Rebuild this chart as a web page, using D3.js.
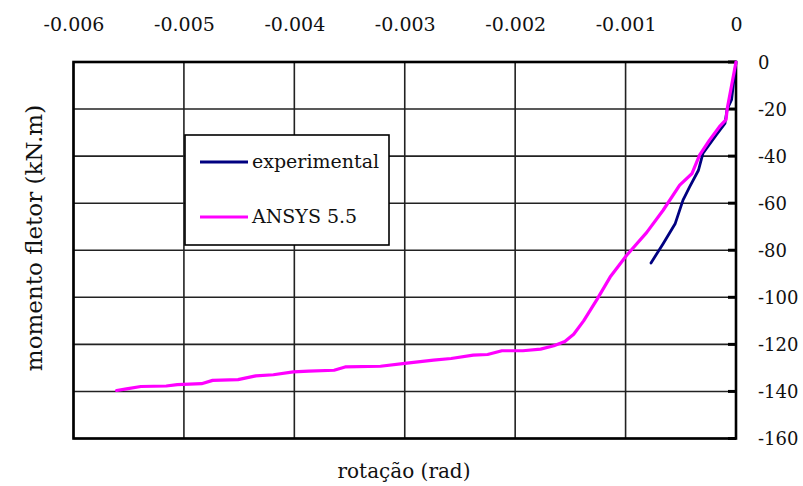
<!DOCTYPE html>
<html>
<head>
<meta charset="utf-8">
<script src="https://cdn.jsdelivr.net/npm/d3@7"></script>
<style>
  html, body { margin: 0; padding: 0; background: #fff; }
</style>
</head>
<body>
<svg id="chart" width="803" height="486"></svg>
<script>
// Rotation (rad) vs bending moment (kN.m)
const seriesNames = ["experimental", "ANSYS 5.5"];

const experimentalRot = [0, -0.00002, -0.00004, -0.00008, -0.0001, -0.00018, -0.0003, -0.00034, -0.00042, -0.00048, -0.00055, -0.00066, -0.00077];
const experimentalMom = [0, -8, -16, -20, -26.1, -31.1, -38.9, -46, -53.1, -58.7, -68.6, -77.2, -85.4];

const ansysRot = [0, -0.00004, -0.00008, -0.00009, -0.00015, -0.00024, -0.00033, -0.0004, -0.00051, -0.00066, -0.00081, -0.00099,
  -0.00114, -0.00126, -0.00138, -0.00147, -0.00155, -0.00165, -0.00177, -0.00193, -0.00212, -0.00225, -0.00238, -0.00258,
  -0.00274, -0.003, -0.00322, -0.00354, -0.00364, -0.00387, -0.00401, -0.00419, -0.00435, -0.00451, -0.00474, -0.00484,
  -0.00506, -0.00516, -0.00539, -0.00552, -0.00561];
const ansysMom = [0, -10, -20, -24.5, -27.5, -33.2, -39.6, -47.5, -52.3, -63, -72.5, -82.1,
  -91.4, -101, -110, -115.7, -118.8, -120.6, -122, -122.7, -122.7, -124.3, -124.6, -126,
  -126.7, -128.1, -129.3, -129.6, -131, -131.4, -131.7, -132.9, -133.4, -135, -135.3, -136.7,
  -137.1, -137.7, -137.9, -138.9, -139.6];

const xTicks = [-0.006, -0.005, -0.004, -0.003, -0.002, -0.001, 0];
const xTickLabels = ["-0.006", "-0.005", "-0.004", "-0.003", "-0.002", "-0.001", "0"];
const yTicks = [0, -20, -40, -60, -80, -100, -120, -140, -160];
const yTickLabels = ["0", "-20", "-40", "-60", "-80", "-100", "-120", "-140", "-160"];

const seriesColors = ["#000080", "#ff00ff"];
const FONT = "DejaVu Serif";

const plot = { left: 73.5, right: 736, top: 62, bottom: 438.5 };

const x = d3.scaleLinear().domain([-0.006, 0]).range([plot.left, plot.right]);
const y = d3.scaleLinear().domain([0, -160]).range([plot.top, plot.bottom]);

const svg = d3.select("#chart");

// grid
const grid = svg.append("g");
grid.selectAll("line.v").data(xTicks).join("line")
  .attr("x1", d => x(d)).attr("x2", d => x(d))
  .attr("y1", plot.top).attr("y2", plot.bottom)
  .attr("stroke", "#222").attr("stroke-width", 1.6);
grid.selectAll("line.h").data(yTicks).join("line")
  .attr("x1", plot.left).attr("x2", plot.right)
  .attr("y1", d => y(d)).attr("y2", d => y(d))
  .attr("stroke", "#222").attr("stroke-width", 1.6);

// top axis labels
const xAxis = d3.axisTop(x).tickValues(xTicks)
  .tickFormat((d, i) => xTickLabels[i]).tickSize(0).tickPadding(0);
const gx = svg.append("g").attr("transform", `translate(0,${plot.top})`).call(xAxis);
gx.select(".domain").remove();
gx.selectAll("text").attr("y", -31).attr("dy", 0).attr("fill", "#111")
  .style("font-family", FONT).style("font-size", "19px");

// right axis labels
const yAxis = d3.axisRight(y).tickValues(yTicks)
  .tickFormat((d, i) => yTickLabels[i]).tickSize(0).tickPadding(0);
const gy = svg.append("g").attr("transform", `translate(${plot.right},0)`).call(yAxis);
gy.select(".domain").remove();
gy.selectAll("text").attr("x", 22).attr("dy", "0.35em").attr("text-anchor", "start").attr("fill", "#111")
  .style("font-family", FONT).style("font-size", "18px");

// small inward ticks on the right border
svg.append("g").selectAll("line").data(yTicks).join("line")
  .attr("x1", plot.right - 8).attr("x2", plot.right)
  .attr("y1", d => y(d)).attr("y2", d => y(d))
  .attr("stroke", "#000").attr("stroke-width", 3);

// frame
svg.append("rect")
  .attr("x", plot.left).attr("y", plot.top)
  .attr("width", plot.right - plot.left).attr("height", plot.bottom - plot.top)
  .attr("fill", "none").attr("stroke", "#000").attr("stroke-width", 2.6);

// curves
const line = d3.line().x(d => x(d[0])).y(d => y(d[1]));
const expData = experimentalRot.map((r, i) => [r, experimentalMom[i]]);
const ansData = ansysRot.map((r, i) => [r, ansysMom[i]]);

svg.append("path").datum(expData).attr("d", line)
  .attr("fill", "none").attr("stroke", seriesColors[0]).attr("stroke-width", 2.8)
  .attr("stroke-linejoin", "round").attr("stroke-linecap", "round");
svg.append("path").datum(ansData).attr("d", line)
  .attr("fill", "none").attr("stroke", seriesColors[1]).attr("stroke-width", 3.2)
  .attr("stroke-linejoin", "round").attr("stroke-linecap", "round");

// legend
const lg = svg.append("g");
lg.append("rect").attr("x", 185).attr("y", 135).attr("width", 204).attr("height", 110)
  .attr("fill", "#fff").attr("stroke", "#000").attr("stroke-width", 1.6);
const legendRows = [162, 217];
seriesNames.forEach((name, i) => {
  lg.append("line").attr("x1", 200).attr("x2", 248)
    .attr("y1", legendRows[i]).attr("y2", legendRows[i])
    .attr("stroke", seriesColors[i]).attr("stroke-width", 3);
  lg.append("text").attr("x", 252).attr("y", legendRows[i]).attr("dy", "0.33em")
    .attr("fill", "#111").style("font-family", FONT).style("font-size", "19px").text(name);
});

// axis titles
svg.append("text").attr("x", 404).attr("y", 478).attr("text-anchor", "middle")
  .attr("fill", "#111").style("font-family", FONT).style("font-size", "20px").text("rotação (rad)");
svg.append("text").attr("transform", "translate(42,238) rotate(-90)")
  .attr("text-anchor", "middle").attr("fill", "#111")
  .style("font-family", FONT).style("font-size", "23px").text("momento fletor (kN.m)");
</script>
</body>
</html>
